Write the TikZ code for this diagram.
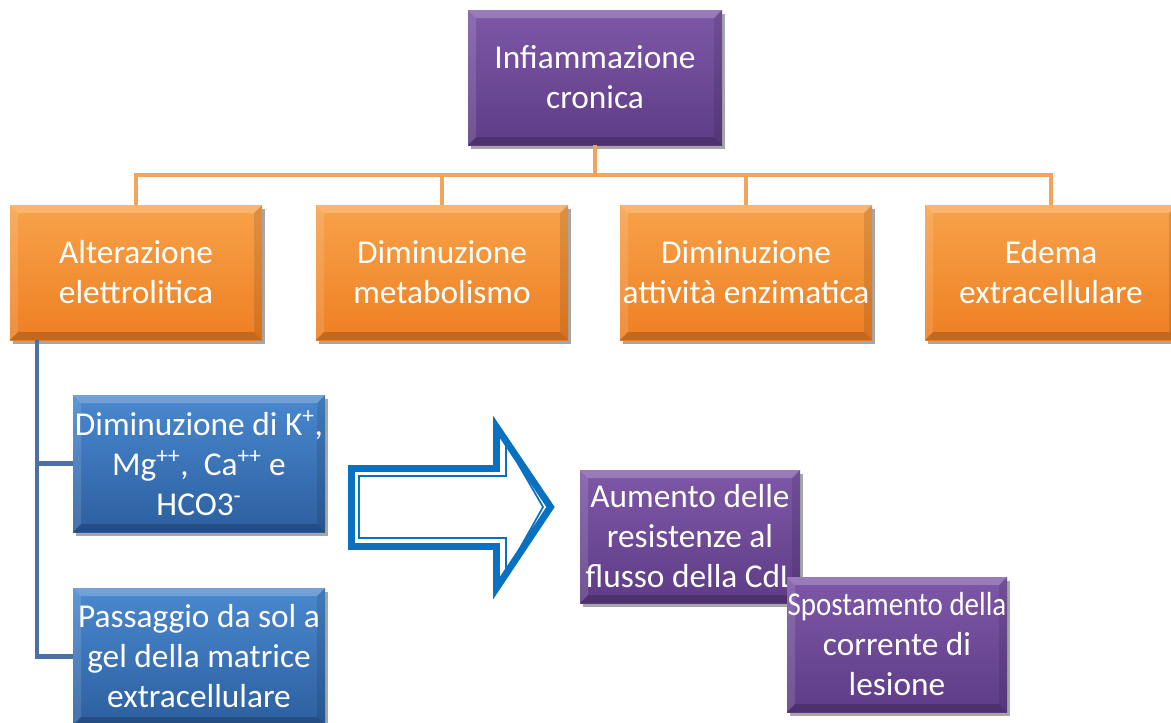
\documentclass[tikz,border=0pt]{standalone}
\usepackage{fontspec}
\setmainfont{Carlito}
\usetikzlibrary{shadows}
\definecolor{purT}{HTML}{7E58A8}
\definecolor{purB}{HTML}{5E3C86}
\definecolor{orT}{HTML}{F7A24A}
\definecolor{orB}{HTML}{EE7F22}
\definecolor{blT}{HTML}{4A88CF}
\definecolor{blB}{HTML}{2C5F9F}
\definecolor{oline}{HTML}{F2A35E}
\definecolor{bline}{HTML}{4D6FA8}
\definecolor{arrblue}{HTML}{0A70C0}
\newcommand{\zl}[1]{\makebox[0pt][c]{#1}}
\tikzset{
  bevelbox/.style={rectangle, inner xsep=0pt, inner ysep=2pt, align=center, text=white,
    font=\fontsize{25}{30}\selectfont,
    drop shadow={shadow xshift=2.5pt, shadow yshift=-3pt, opacity=0.35, fill=black},
    path picture={
      \fill[white,opacity=0.22] (path picture bounding box.north west) -- (path picture bounding box.north east)
        -- ([xshift=-6pt,yshift=-6pt]path picture bounding box.north east) -- ([xshift=6pt,yshift=-6pt]path picture bounding box.north west) -- cycle;
      \fill[white,opacity=0.12] (path picture bounding box.north west) -- (path picture bounding box.south west)
        -- ([xshift=6pt,yshift=6pt]path picture bounding box.south west) -- ([xshift=6pt,yshift=-6pt]path picture bounding box.north west) -- cycle;
      \fill[black,opacity=0.18] (path picture bounding box.south west) -- (path picture bounding box.south east)
        -- ([xshift=-6pt,yshift=6pt]path picture bounding box.south east) -- ([xshift=6pt,yshift=6pt]path picture bounding box.south west) -- cycle;
      \fill[black,opacity=0.10] (path picture bounding box.north east) -- (path picture bounding box.south east)
        -- ([xshift=-6pt,yshift=6pt]path picture bounding box.south east) -- ([xshift=-6pt,yshift=-6pt]path picture bounding box.north east) -- cycle;
    }},
  purbox/.style={bevelbox, top color=purT, bottom color=purB},
  orbox/.style={bevelbox, top color=orT, bottom color=orB, minimum width=189pt, minimum height=101.25pt},
  blbox/.style={bevelbox, top color=blT, bottom color=blB, minimum width=189pt, minimum height=102.75pt},
  oconn/.style={draw=oline, line width=3pt},
  bconn/.style={draw=bline, line width=3.6pt},
  arrouter/.style={draw=arrblue, line width=5.2pt, line join=miter},
  arrinner/.style={draw=arrblue, line width=1.3pt, line join=miter}
}
\begin{document}
\begin{tikzpicture}[x=0.75pt,y=-0.75pt]
\useasboundingbox[fill=white] (0,0) rectangle (1171,722);
\coordinate (bus) at (595,175);
\coordinate (btop) at (37,340);
% nodes
\node[purbox, minimum width=190.5pt, minimum height=101.25pt] (top) at (595,77.5) {\zl{Infiammazione}\\\zl{cronica}};
\node[orbox] (alt) at (136,272.5) {\zl{Alterazione}\\\zl{elettrolitica}};
\node[orbox] (met) at (442,272.5) {\zl{Diminuzione}\\\zl{metabolismo}};
\node[orbox] (enz) at (746,272.5) {\zl{Diminuzione}\\\zl{attività enzimatica}};
\node[orbox] (ede) at (1051,272.5) {\zl{Edema}\\\zl{extracellulare}};
\node[blbox] (dim) at (199,463.5) {\zl{Diminuzione di K\textsuperscript{+},}\\\zl{Mg\textsuperscript{++},\ \ Ca\textsuperscript{++} e}\\\zl{HCO3\textsuperscript{-}}};
\node[blbox] (pas) at (199,656.5) {\zl{Passaggio da sol a}\\\zl{gel della matrice}\\\zl{extracellulare}};
\node[purbox, minimum width=165pt, minimum height=99.75pt] (aum) at (690,536.5) {\zl{Aumento delle}\\\zl{resistenze al}\\\zl{flusso della CdL}};
\node[purbox, minimum width=165pt, minimum height=101.25pt] (spo) at (897,644.5) {\zl{\scalebox{0.87}[1]{Spostamento della}}\\\zl{corrente di}\\\zl{lesione}};
% orange tree
\draw[oconn] (top.south) -- (bus);
\draw[oconn] (alt.north) |- (bus) -| (ede.north);
\draw[oconn] (met.north) -- (met.north |- bus);
\draw[oconn] (enz.north) -- (enz.north |- bus);
% blue tree
\draw[bconn] (btop) |- (dim.west);
\draw[bconn] (btop) |- (pas.west);
% block arrow
\draw[arrouter] (351.5,468.5) -- (496.5,468.5) -- (496.5,427) -- (550.5,507) -- (496.5,588) -- (496.5,546.5) -- (351.5,546.5) -- cycle;
\draw[arrinner] (359,476) -- (506,476) -- (506,443) -- (543,507) -- (506,573) -- (506,538) -- (359,538) -- cycle;
\end{tikzpicture}
\end{document}
